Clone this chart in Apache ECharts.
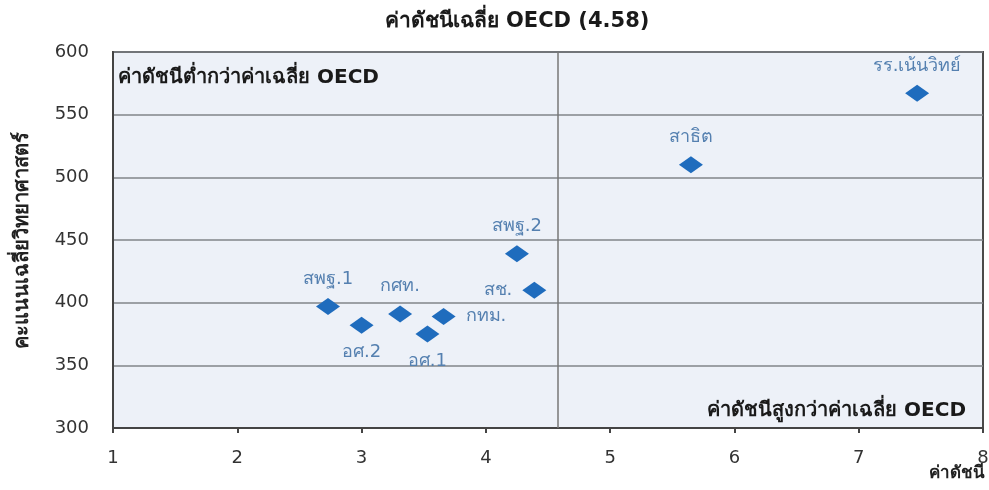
<!DOCTYPE html>
<html>
<head>
<meta charset="utf-8">
<script src="https://cdn.jsdelivr.net/npm/echarts@6/dist/echarts.min.js"></script>
<style>html,body{margin:0;padding:0;background:#fff}#c{width:989px;height:490px}</style>
</head>
<body>
<div id="c"></div>
<script>
const names = ['สพฐ.1','อศ.2','กศท.','อศ.1','กทม.','สพฐ.2','สช.','สาธิต','รร.เน้นวิทย์'];
const indexValues = [2.73, 3.00, 3.31, 3.53, 3.66, 4.25, 4.39, 5.65, 7.47];
const scienceScores = [397, 382, 391, 375, 389, 439, 410, 510, 567];
const labelPos = ['top','bottom','top','bottom','right','top','left','top','top'];
const oecdAvg = 4.58;
const xTicks = [1,2,3,4,5,6,7,8];
const yTicks = [300,350,400,450,500,550,600];
const titleText = 'ค่าดัชนีเฉลี่ย OECD (4.58)';
const lowText = 'ค่าดัชนีต่ำกว่าค่าเฉลี่ย OECD';
const highText = 'ค่าดัชนีสูงกว่าค่าเฉลี่ย OECD';
const xName = 'ค่าดัชนี';
const yName = 'คะแนนเฉลี่ยวิทยาศาสตร์';

const FONT = '"DejaVu Sans", sans-serif';
const data = names.map((n,i)=>({
  name:n, value:[indexValues[i], scienceScores[i]],
  label:{position:labelPos[i]}
}));
const chart = echarts.init(document.getElementById('c'));
chart.setOption({
  animation:false,
  textStyle:{fontFamily:FONT},
  grid:{left:113,right:6,top:52,bottom:62,containLabel:false,outerBoundsMode:'none',
    show:true,backgroundColor:'#edf1f8',borderColor:'#4a4a4a',borderWidth:2},
  xAxis:{type:'value',min:xTicks[0],max:xTicks[xTicks.length-1],interval:1,
    axisLine:{show:true,lineStyle:{color:'#444',width:2}},
    axisTick:{show:true,length:5,lineStyle:{color:'#444',width:2}},
    splitLine:{show:false},
    axisLabel:{fontSize:18,color:'#333',margin:21}},
  yAxis:{type:'value',min:yTicks[0],max:yTicks[yTicks.length-1],interval:50,
    name:yName,nameLocation:'middle',nameGap:80,nameRotate:90,
    nameTextStyle:{fontWeight:'bold',fontSize:20,color:'#222'},
    axisLine:{show:true,lineStyle:{color:'#444',width:2}},
    axisTick:{show:false},
    splitLine:{show:true,lineStyle:{color:'#80848a',width:1.5}},
    axisLabel:{fontSize:18,color:'#333',margin:24}},
  graphic:[
    {type:'text',x:517,y:11,style:{text:titleText,font:'bold 21px '+FONT,fill:'#1a1a1a',textAlign:'center'}},
    {type:'text',x:118,y:68,style:{text:lowText,font:'bold 20px '+FONT,fill:'#1a1a1a'}},
    {type:'text',x:966,y:401,style:{text:highText,font:'bold 20px '+FONT,fill:'#1a1a1a',textAlign:'right'}},
    {type:'text',x:985,y:465,style:{text:xName,font:'bold 17px '+FONT,fill:'#222',textAlign:'right'}}
  ],
  series:[{
    type:'scatter',symbol:'diamond',symbolSize:[24,17],
    itemStyle:{color:'#1f6cbd',opacity:1},
    label:{show:true,formatter:'{b}',color:'#5580b0',fontSize:18,distance:10},
    data:data,
    markLine:{silent:true,symbol:['none','none'],
      lineStyle:{color:'#777',width:1.5,type:'solid'},
      label:{show:false},
      data:[{xAxis:oecdAvg}]}
  }]
});
</script>
</body>
</html>
